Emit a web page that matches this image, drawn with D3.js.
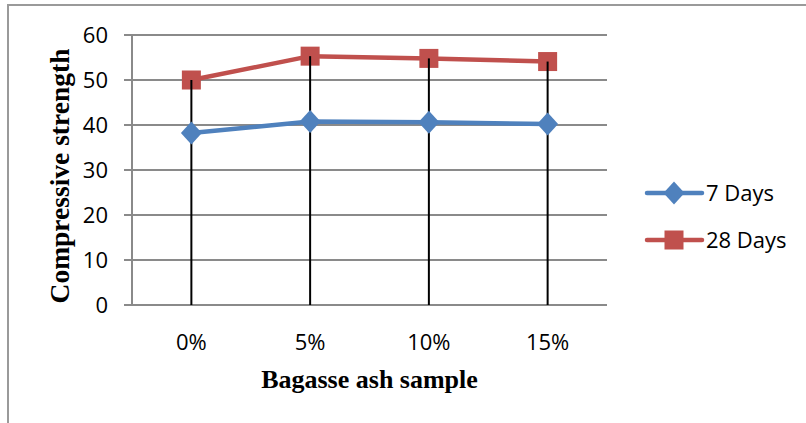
<!DOCTYPE html>
<html>
<head>
<meta charset="utf-8">
<script src="https://cdn.jsdelivr.net/npm/d3@7"></script>
<style>
  html, body { margin: 0; padding: 0; background: #fff; }
  svg { display: block; }
</style>
</head>
<body>
<svg id="chart" width="806" height="423"></svg>
<script>
// Compressive strength vs. bagasse ash replacement
const categories = ["0%", "5%", "10%", "15%"];
const days7 = [38.2, 40.8, 40.6, 40.2];
const days28 = [50.0, 55.3, 54.8, 54.1];
const yTicks = [0, 10, 20, 30, 40, 50, 60];
const seriesNames = ["7 Days", "28 Days"];

const blue = "#4F81BD";
const red = "#C0504D";
const grid = "#8a8a8a";
const sansFont = "'Open Sans', 'Noto Sans', sans-serif";
const serifFont = "'Liberation Serif', 'DejaVu Serif', serif";

const svg = d3.select("#chart");

// outer frame (top and left edges)
svg.append("path")
  .attr("d", "M8,423 V5 H806")
  .attr("fill", "none")
  .attr("stroke", "#9a9a9a")
  .attr("stroke-width", 2);

const plot = { left: 132, right: 607, top: 35, bottom: 305 };

const x = d3.scalePoint()
  .domain(categories)
  .range([plot.left, plot.right])
  .padding(0.5);

const y = d3.scaleLinear()
  .domain([0, 60])
  .range([plot.bottom, plot.top]);

// horizontal gridlines with short left ticks
svg.append("g")
  .selectAll("line")
  .data(yTicks)
  .join("line")
  .attr("x1", plot.left - 8)
  .attr("x2", plot.right)
  .attr("y1", d => y(d))
  .attr("y2", d => y(d))
  .attr("stroke", grid)
  .attr("stroke-width", 2);

// vertical axis line
svg.append("line")
  .attr("x1", plot.left).attr("x2", plot.left)
  .attr("y1", y(60)).attr("y2", y(0))
  .attr("stroke", grid)
  .attr("stroke-width", 2);

// y tick labels
svg.append("g")
  .selectAll("text")
  .data(yTicks)
  .join("text")
  .attr("x", 108)
  .attr("y", d => y(d) + 8)
  .attr("text-anchor", "end")
  .attr("font-family", sansFont)
  .attr("font-size", 22)
  .attr("fill", "#000")
  .text(d => d);

// x tick labels
svg.append("g")
  .selectAll("text")
  .data(categories)
  .join("text")
  .attr("x", d => x(d))
  .attr("y", 350)
  .attr("text-anchor", "middle")
  .attr("font-family", sansFont)
  .attr("font-size", 22)
  .attr("fill", "#000")
  .text(d => d);

// axis titles
svg.append("text")
  .attr("x", (plot.left + plot.right) / 2)
  .attr("y", 388)
  .attr("text-anchor", "middle")
  .attr("font-family", serifFont)
  .attr("font-weight", "bold")
  .attr("font-size", 26)
  .attr("fill", "#000")
  .text("Bagasse ash sample");

svg.append("text")
  .attr("transform", `translate(69,${(plot.top + plot.bottom) / 2 + 6}) rotate(-90)`)
  .attr("text-anchor", "middle")
  .attr("font-family", serifFont)
  .attr("font-weight", "bold")
  .attr("font-size", 27.5)
  .attr("fill", "#000")
  .text("Compressive strength");

const line = d3.line()
  .x((d, i) => x(categories[i]))
  .y(d => y(d));

// 28 days series
svg.append("path")
  .datum(days28)
  .attr("d", line)
  .attr("fill", "none")
  .attr("stroke", red)
  .attr("stroke-width", 4.5)
  .attr("stroke-linejoin", "round");

const sq = 19;
svg.append("g")
  .selectAll("rect")
  .data(days28)
  .join("rect")
  .attr("x", (d, i) => x(categories[i]) - sq / 2)
  .attr("y", d => y(d) - sq / 2)
  .attr("width", sq)
  .attr("height", sq)
  .attr("fill", red);

// drop lines from the 28-day values to the axis
svg.append("g")
  .selectAll("line")
  .data(days28)
  .join("line")
  .attr("x1", (d, i) => x(categories[i]))
  .attr("x2", (d, i) => x(categories[i]))
  .attr("y1", d => y(d))
  .attr("y2", y(0))
  .attr("stroke", "#000")
  .attr("stroke-width", 2);

// 7 days series
svg.append("path")
  .datum(days7)
  .attr("d", line)
  .attr("fill", "none")
  .attr("stroke", blue)
  .attr("stroke-width", 4.5)
  .attr("stroke-linejoin", "round");

const diamond = (cx, cy, w, h) =>
  `M${cx},${cy - h} L${cx + w},${cy} L${cx},${cy + h} L${cx - w},${cy} Z`;

svg.append("g")
  .selectAll("path")
  .data(days7)
  .join("path")
  .attr("d", (d, i) => diamond(x(categories[i]), y(d), 10.5, 11.5))
  .attr("fill", blue);

// legend
const legend = svg.append("g");
const legendRows = [
  { name: seriesNames[0], color: blue, y: 193, shape: "diamond" },
  { name: seriesNames[1], color: red, y: 240, shape: "square" }
];
legendRows.forEach(r => {
  legend.append("line")
    .attr("x1", 647).attr("x2", 702)
    .attr("y1", r.y).attr("y2", r.y)
    .attr("stroke", r.color)
    .attr("stroke-width", 4.5)
    .attr("stroke-linecap", "round");
  if (r.shape === "diamond") {
    legend.append("path")
      .attr("d", diamond(674, r.y, 10.5, 11.5))
      .attr("fill", r.color);
  } else {
    legend.append("rect")
      .attr("x", 674 - sq / 2).attr("y", r.y - sq / 2)
      .attr("width", sq).attr("height", sq)
      .attr("fill", r.color);
  }
  legend.append("text")
    .attr("x", 706)
    .attr("y", r.y + 8)
    .attr("font-family", sansFont)
    .attr("font-size", 22)
    .attr("fill", "#000")
    .text(r.name);
});
</script>
</body>
</html>
